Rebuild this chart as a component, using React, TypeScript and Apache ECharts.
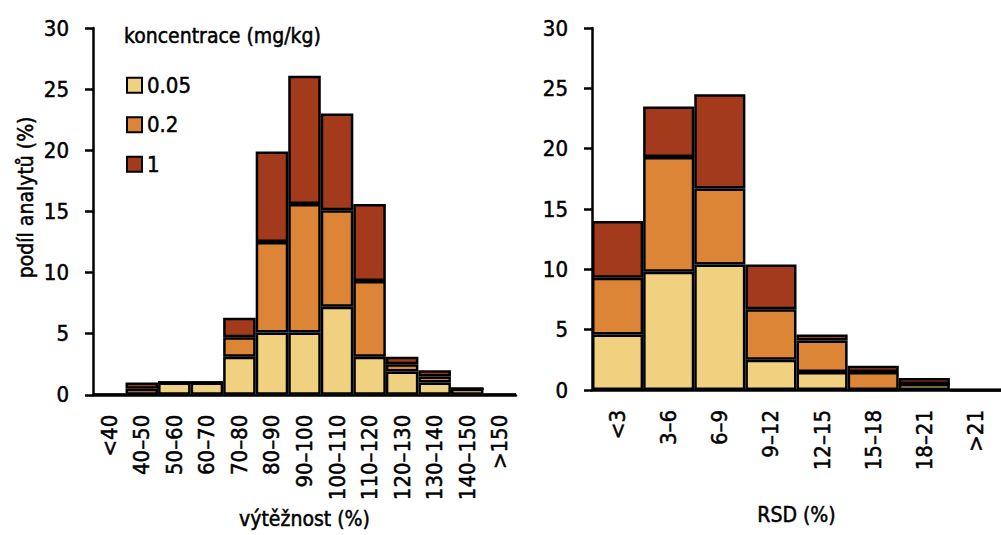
import React, { useEffect, useRef } from "react";
import * as echarts from "echarts";

// Recovery classes (left panel) and stacked shares per spiking level
const recoveryCats = ["<40", "40–50", "50–60", "60–70", "70–80", "80–90", "90–100", "100–110", "110–120", "120–130", "130–140", "140–150", ">150"];
const recoveryLow = [0, 0, 1.0, 1.0, 3.1, 5.1, 5.1, 7.2, 3.1, 1.9, 1.0, 0.5, 0];
const recoveryMid = [0, 0.5, 0, 0, 1.6, 7.4, 10.5, 7.9, 6.2, 0.6, 0.5, 0, 0];
const recoveryHigh = [0, 0.5, 0, 0, 1.6, 7.4, 10.5, 7.9, 6.3, 0.6, 0.5, 0, 0];

// RSD classes (right panel)
const rsdCats = ["<3", "3–6", "6–9", "9–12", "12–15", "15–18", "18–21", ">21"];
const rsdLow = [4.6, 9.8, 10.4, 2.5, 1.5, 0, 0.5, 0];
const rsdMid = [4.7, 9.5, 6.3, 4.2, 2.6, 1.5, 0, 0];
const rsdHigh = [4.7, 4.2, 7.8, 3.7, 0.5, 0.5, 0.5, 0];

const levelNames = ["0.05", "0.2", "1"];
const levelColors = ["#F0D180", "#DD8536", "#A43A1C"];
const yTicks = { min: 0, max: 30, interval: 5 };

const FONT = "'Liberation Sans Narrow', 'DejaVu Sans Condensed', 'Roboto Condensed', sans-serif";
// slight outline in the text colour gives the glyphs a heavier stroke
const heavy = { textBorderColor: "#000", textBorderWidth: 0.5 };

export default function App() {
  const ref = useRef<HTMLDivElement>(null);

  useEffect(() => {
    if (!ref.current) return;
    const chart = echarts.init(ref.current, null, { renderer: "svg" });

    const axisLine = { lineStyle: { color: "#000", width: 2.5 } };
    const axisTick = { length: 8, lineStyle: { color: "#000", width: 2.5 } };
    const tickFont = { color: "#000", fontSize: 22, fontFamily: FONT, ...heavy };

    const yAxis = (gridIndex: number, withName: boolean) => ({
      type: "value",
      gridIndex,
      min: yTicks.min,
      max: yTicks.max,
      interval: yTicks.interval,
      splitLine: { show: false },
      axisLine: { show: true, ...axisLine },
      axisTick: { show: true, ...axisTick },
      axisLabel: { ...tickFont, margin: 24 },
      name: withName ? "podíl analytů (%)" : "",
      nameLocation: "middle",
      nameGap: 57,
      nameTextStyle: { color: "#000", fontSize: 21, fontFamily: FONT, padding: [0, 0, 0, 28], ...heavy },
    });

    const xAxis = (gridIndex: number, data: string[], name: string) => ({
      type: "category",
      gridIndex,
      data,
      axisLine,
      axisTick,
      axisLabel: { ...tickFont, rotate: 90, margin: 20, interval: 0 },
      name,
      nameLocation: "middle",
      nameGap: 114,
      nameTextStyle: { color: "#000", fontSize: 21, fontFamily: FONT, ...heavy },
    });

    const makeSeries = (xi: number, stack: string, sets: number[][]) =>
      sets.map((d, i) => ({
        type: "bar",
        name: levelNames[i],
        xAxisIndex: xi,
        yAxisIndex: xi,
        stack,
        data: d,
        barCategoryGap: "0%",
        itemStyle: { color: levelColors[i], borderColor: "#000", borderWidth: 2.5 },
      }));

    chart.setOption({
      animation: false,
      textStyle: { fontFamily: FONT },
      title: {
        text: "koncentrace (mg/kg)",
        left: 124,
        top: 25,
        padding: 0,
        textStyle: { color: "#000", fontSize: 21, fontWeight: "normal", fontFamily: FONT, ...heavy },
      },
      legend: {
        data: levelNames,
        orient: "vertical",
        left: 126,
        top: 74,
        padding: 0,
        itemWidth: 15,
        itemHeight: 15,
        itemGap: 17,
        icon: "rect",
        textStyle: { color: "#000", fontSize: 22, fontFamily: FONT, ...heavy },
        selectedMode: false,
      },
      grid: [
        { left: 93, top: 28, width: 423, height: 367 },
        { left: 592, top: 28, width: 417, height: 362 },
      ],
      xAxis: [
        xAxis(0, recoveryCats, "výtěžnost (%)"),
        xAxis(1, rsdCats, "RSD (%)"),
      ],
      yAxis: [yAxis(0, true), yAxis(1, false)],
      series: [
        ...makeSeries(0, "recovery", [recoveryLow, recoveryMid, recoveryHigh]),
        ...makeSeries(1, "rsd", [rsdLow, rsdMid, rsdHigh]),
      ],
    });

    return () => chart.dispose();
  }, []);

  return (
    <div
      ref={ref}
      style={{ position: "fixed", left: 0, top: 0, width: 1001, height: 535, background: "#fff" }}
    />
  );
}
